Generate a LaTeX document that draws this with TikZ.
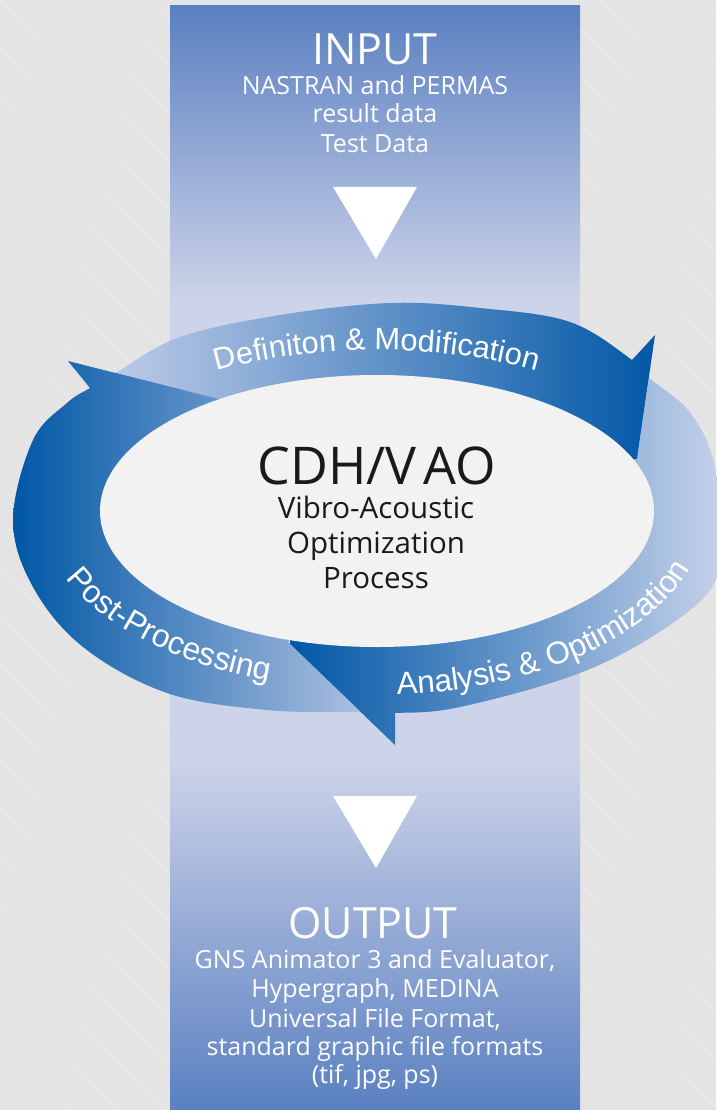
\documentclass[tikz,border=0pt]{standalone}
\usepackage{fontspec}
\setmainfont{Open Sans}
\newfontfamily\ringfont{Liberation Sans}
\usetikzlibrary{decorations.text}
\definecolor{bgc}{RGB}{228,228,228}
\definecolor{bandD}{RGB}{90,128,193}
\definecolor{bandL}{RGB}{205,211,233}
\definecolor{arrD}{RGB}{0,87,166}
\definecolor{topL}{RGB}{190,203,232}
\definecolor{postL}{RGB}{190,202,230}
\definecolor{anaL}{RGB}{197,209,234}
\definecolor{innerc}{RGB}{242,242,242}
\definecolor{ctrc}{RGB}{26,26,26}
\begin{document}
\def\outerpath{plot[smooth cycle, tension=0.6] coordinates {(13,520) (33,440) (67,403) (90,388) (117,372) (180,337) (280,315) (390,303) (480,308) (570,322) (632,360) (648,377) (688,410) (712,455) (720,515) (716,580) (667,627) (580,673) (460,707) (395,713) (357,712) (267,710) (167,693) (83,647) (33,587)}}
\begin{tikzpicture}[x=1pt,y=-1pt,
  bgline/.style={white, opacity=0.35, line width=0.8pt},
  headtxt/.style={text=white, font=\fontsize{43}{50}\selectfont, anchor=base, inner sep=0pt},
  subtxt/.style={text=white, font=\fontsize{25}{29}\selectfont, anchor=base, inner sep=0pt},
  ctrtxt/.style={text=ctrc, font=\fontsize{29.5}{34}\selectfont, anchor=base, inner sep=0pt},
  downtri/.style={fill=white}]
\useasboundingbox (0,0) rectangle (716,1110);
\fill[bgc] (0,0) rectangle (716,1110);
\begin{scope}
  \clip (0,0) rectangle (716,1110);
  \foreach \x in {-1200,-1150,...,700} \draw[bgline] (\x,0) -- ++(1200,1140);
\end{scope}
% vertical band
\shade[top color=bandD, bottom color=bandL] (170,6) rectangle (580,300);
\fill[bandL] (170,299) rectangle (580,761);
\shade[top color=bandL, bottom color=bandD] (170,760) rectangle (580,1110);
% top arrow: Definiton & Modification
\begin{scope}
  \clip (377,511) -- (222,400) -- (-240,283) -- (-240,-50) -- (691,-50) -- (691,87) -- (637,459) -- cycle;
  \clip \outerpath;
  \shade[left color=topL, right color=arrD] (110,290) rectangle (660,520);
\end{scope}
\begin{scope}
  \clip (632,360) -- (655,335) -- (637,459) -- cycle;
  \shade[left color=topL, right color=arrD] (110,290) rectangle (660,520);
\end{scope}
% right arrow: Analysis & Optimization
\begin{scope}
  \clip (377,511) -- (637,459) -- (691,87) -- (900,87) -- (900,951) -- (609,951) -- (288,642) -- cycle;
  \clip \outerpath;
  \shade[left color=arrD, right color=anaL] (290,330) rectangle (722,750);
\end{scope}
\begin{scope}
  \clip (395,713) -- (395,745) -- (288,642) -- cycle;
  \shade[left color=arrD, right color=anaL] (290,330) rectangle (722,750);
\end{scope}
% left arrow: Post-Processing
\begin{scope}
  \clip (377,511) -- (288,642) -- (609,951) -- (-240,951) -- (-240,283) -- (222,400) -- cycle;
  \clip \outerpath;
  \shade[left color=arrD, right color=postL] (12,355) rectangle (400,720);
\end{scope}
\begin{scope}
  \clip (90,388) -- (68,361) -- (222,400) -- cycle;
  \shade[left color=arrD, right color=postL] (12,355) rectangle (400,720);
\end{scope}
% inner ellipse
\fill[innerc] (377,511) ellipse [x radius=277, y radius=136];
\begin{scope}
  \clip (377,511) ellipse [x radius=277, y radius=136];
  \foreach \x in {-1200,-1150,...,700} \draw[white, opacity=0.5, line width=0.8pt] (\x,0) -- ++(1200,1140);
\end{scope}
% down triangles
\fill[downtri] (333,187) -- (417,187) -- (376,259) -- cycle;
\fill[downtri] (333,796) -- (417,796) -- (376,868) -- cycle;
% input texts
\node[headtxt] (input) at (375,65) {INPUT};
\node[subtxt] (in1) at (375,95) {NASTRAN and PERMAS};
\node[subtxt] (in2) at (375,123) {result data};
\node[subtxt] (in3) at (375,153) {Test Data};
% output texts
\node[headtxt] (output) at (373,938) {OUTPUT};
\node[subtxt] (out1) at (375,968) {GNS Animator 3 and Evaluator,};
\node[subtxt] (out2) at (375,997) {Hypergraph, MEDINA};
\node[subtxt] (out3) at (375,1027) {Universal File Format,};
\node[subtxt] (out4) at (375,1055) {standard graphic file formats};
\node[subtxt] (out5) at (375,1083) {(tif, jpg, ps)};
% center texts
\node[anchor=base, inner sep=0pt, text=ctrc, font=\fontsize{52}{60}\selectfont] (cdh) at (377,484) {CDH/V\kern7pt AO};
\node[ctrtxt] (c1) at (376,518) {Vibro-Acoustic};
\node[ctrtxt] (c2) at (376,553) {Optimization};
\node[ctrtxt] (c3) at (376,588) {Process};
% ring labels
\path[decorate, decoration={text along path, text={|\ringfont\fontsize{30.8}{36}\selectfont\color{white}|Definiton {\&} Modification}}]
  plot[domain=0:1, samples=90, variable=\s] ({377+325*cos(119.5-100*\s)}, {511-161*sin(119.5-100*\s)});
\path[decorate, decoration={text along path, text={|\ringfont\fontsize{32}{36}\selectfont\color{white}|Post-Processing}}]
  plot[domain=0:1, samples=90, variable=\s] ({377+336*cos(202+90*\s)}, {511-179*sin(202+90*\s)});
\path[decorate, decoration={text along path, text={|\ringfont\fontsize{31.5}{36}\selectfont\color{white}|Analysis {\&} Optimization}}]
  plot[domain=0:1, samples=90, variable=\s] ({377+330*cos(273.5+95*\s)}, {511-184*sin(273.5+95*\s)});
\end{tikzpicture}
\end{document}
